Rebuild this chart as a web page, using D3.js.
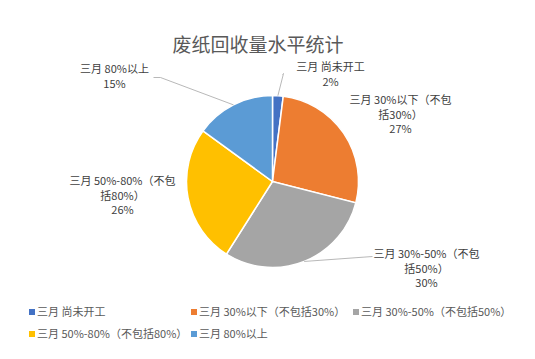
<!DOCTYPE html>
<html>
<head>
<meta charset="utf-8">
<script src="https://cdn.jsdelivr.net/npm/d3@7"></script>
<style>
  html, body { margin: 0; padding: 0; background: #fff; }
  svg { display: block; font-family: "Noto Sans CJK SC", "Microsoft YaHei", sans-serif; }
</style>
</head>
<body>
<svg id="chart" width="535" height="359"></svg>
<script>
const title = "废纸回收量水平统计";
const categories = [
  "三月 尚未开工",
  "三月 30%以下（不包括30%）",
  "三月 30%-50%（不包括50%）",
  "三月 50%-80%（不包括80%）",
  "三月 80%以上"
];
const values = [2, 27, 30, 26, 15];
const colors = ["#4472C4", "#ED7D31", "#A5A5A5", "#FFC000", "#5B9BD5"];
// data label text as it wraps in the picture
const labelLines = [
  ["三月 尚未开工", "2%"],
  ["三月 30%以下（不包", "括30%）", "27%"],
  ["三月 30%-50%（不包", "括50%）", "30%"],
  ["三月 50%-80%（不包", "括80%）", "26%"],
  ["三月 80%以上", "15%"]
];

const width = 535, height = 359;
const cx = 272.5, cy = 181.5, radius = 86;

const svg = d3.select("#chart");

svg.append("text")
  .attr("x", 258).attr("y", 52)
  .attr("text-anchor", "middle")
  .attr("font-size", 19)
  .attr("fill", "#595959")
  .text(title);

const pie = d3.pie().sort(null).value((d) => d)(values);
const arc = d3.arc().innerRadius(0).outerRadius(radius);

const g = svg.append("g").attr("transform", `translate(${cx},${cy})`);
g.selectAll("path.slice")
  .data(pie)
  .join("path")
  .attr("class", "slice")
  .attr("d", arc)
  .attr("fill", (d, i) => colors[i])
  .attr("stroke", "#fff")
  .attr("stroke-width", 1.5);

// label centres relative to the pie centre, and leader line ends (null = no line)
const labelLayout = [
  { dx: 58, dy: -107, line: [[11, -108], [10, -107]] },
  { dx: 128, dy: -67, line: null },
  { dx: 154, dy: 87, line: [[100, 75]] },
  { dx: -150, dy: 14, line: null },
  { dx: -158, dy: -105, line: [[-112, -104], [-119, -104]] }
];
const lineH = 14.5;

pie.forEach((d, i) => {
  const lay = labelLayout[i];
  const mid = (d.startAngle + d.endAngle) / 2;
  if (lay.line) {
    const start = [radius * Math.sin(mid), -radius * Math.cos(mid)];
    g.append("path")
      .attr("d", d3.line()([start, ...lay.line]))
      .attr("fill", "none")
      .attr("stroke", "#A6A6A6")
      .attr("stroke-width", 0.8);
  }
  const lines = labelLines[i];
  const top = lay.dy - (lines.length - 1) * lineH / 2;
  const t = g.append("text")
    .attr("text-anchor", "middle")
    .attr("font-size", 11)
    .attr("fill", "#404040");
  lines.forEach((s, j) => {
    t.append("tspan")
      .attr("x", lay.dx)
      .attr("y", top + j * lineH + 4)
      .text(s);
  });
});

// legend: 3-column grid
const legend = svg.append("g").attr("transform", "translate(29,312)");
const colW = 162, rowH = 22;
const item = legend.selectAll("g.item")
  .data(categories)
  .join("g")
  .attr("class", "item")
  .attr("transform", (d, i) => `translate(${(i % 3) * colW},${Math.floor(i / 3) * rowH})`);
item.append("rect")
  .attr("x", 0).attr("y", -3)
  .attr("width", 6).attr("height", 6)
  .attr("fill", (d, i) => colors[i]);
item.append("text")
  .attr("x", 8).attr("y", 4)
  .attr("font-size", 11)
  .attr("fill", "#595959")
  .text((d) => d);
</script>
</body>
</html>
